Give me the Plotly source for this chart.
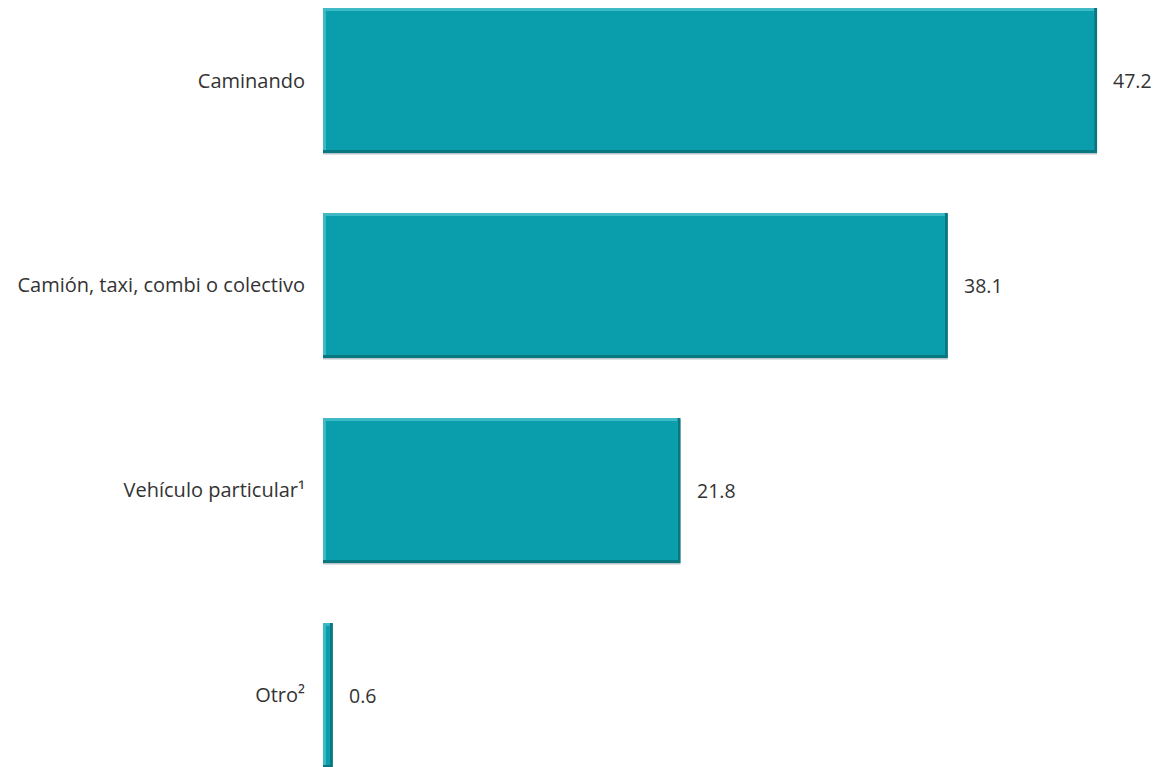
import plotly.graph_objects as go

categories = ["Caminando", "Camión, taxi, combi o colectivo", "Vehículo particular¹", "Otro²"]
values = [47.2, 38.1, 21.8, 0.6]
value_labels = ["47.2", "38.1", "21.8", "0.6"]

W = 0.707      # bar thickness (category units)
ey = 0.014     # bevel thickness in y
ex = 0.18      # bevel thickness in x

fig = go.Figure()
# soft grey shadow
fig.add_trace(go.Bar(y=categories, x=values, base=0, orientation="h", width=W, offset=-W/2 + 0.008,
                     marker=dict(color="#B8C4C6", line=dict(width=0)), hoverinfo="skip", showlegend=False))
# dark (bottom/right edge)
fig.add_trace(go.Bar(y=categories, x=values, base=0, orientation="h", width=W, offset=-W/2,
                     marker=dict(color="#087780", line=dict(width=0)), hoverinfo="skip", showlegend=False))
# light highlight (top/left edge)
fig.add_trace(go.Bar(y=categories, x=[v - ex for v in values], base=0, orientation="h",
                     width=W - ey, offset=-W/2,
                     marker=dict(color="#3DBAC5", line=dict(width=0)), hoverinfo="skip", showlegend=False))
# main face
fig.add_trace(go.Bar(y=categories, x=[max(v - 2*ex, 0.05) for v in values], base=ex,
                     orientation="h", width=W - 2*ey, offset=-W/2 + ey,
                     marker=dict(color="#0A9EAC", line=dict(width=0)), showlegend=False))

for c, v, t in zip(categories, values, value_labels):
    fig.add_annotation(x=v, y=c, text=t, showarrow=False, xanchor="left", xshift=14,
                       font=dict(family="Open Sans", size=19.5, color="#333333"))

fig.update_layout(
    width=1156, height=767,
    margin=dict(l=323, r=0, t=0, b=0),
    barmode="overlay",
    paper_bgcolor="white", plot_bgcolor="white",
    font=dict(family="Open Sans", size=20, color="#333333"),
    xaxis=dict(range=[0, 833/16.4], visible=False, showgrid=False, zeroline=False),
    yaxis=dict(type="category", categoryarray=categories, range=[3.349, -0.3927],
               showgrid=False, zeroline=False, showline=False, ticks="",
               ticklabelstandoff=17, tickfont=dict(family="Open Sans", size=20, color="#333333")),
)

fig.write_html("out.html", config={"displayModeBar": False},
               post_script="document.body.style.margin='0';document.body.style.overflow='hidden';")
